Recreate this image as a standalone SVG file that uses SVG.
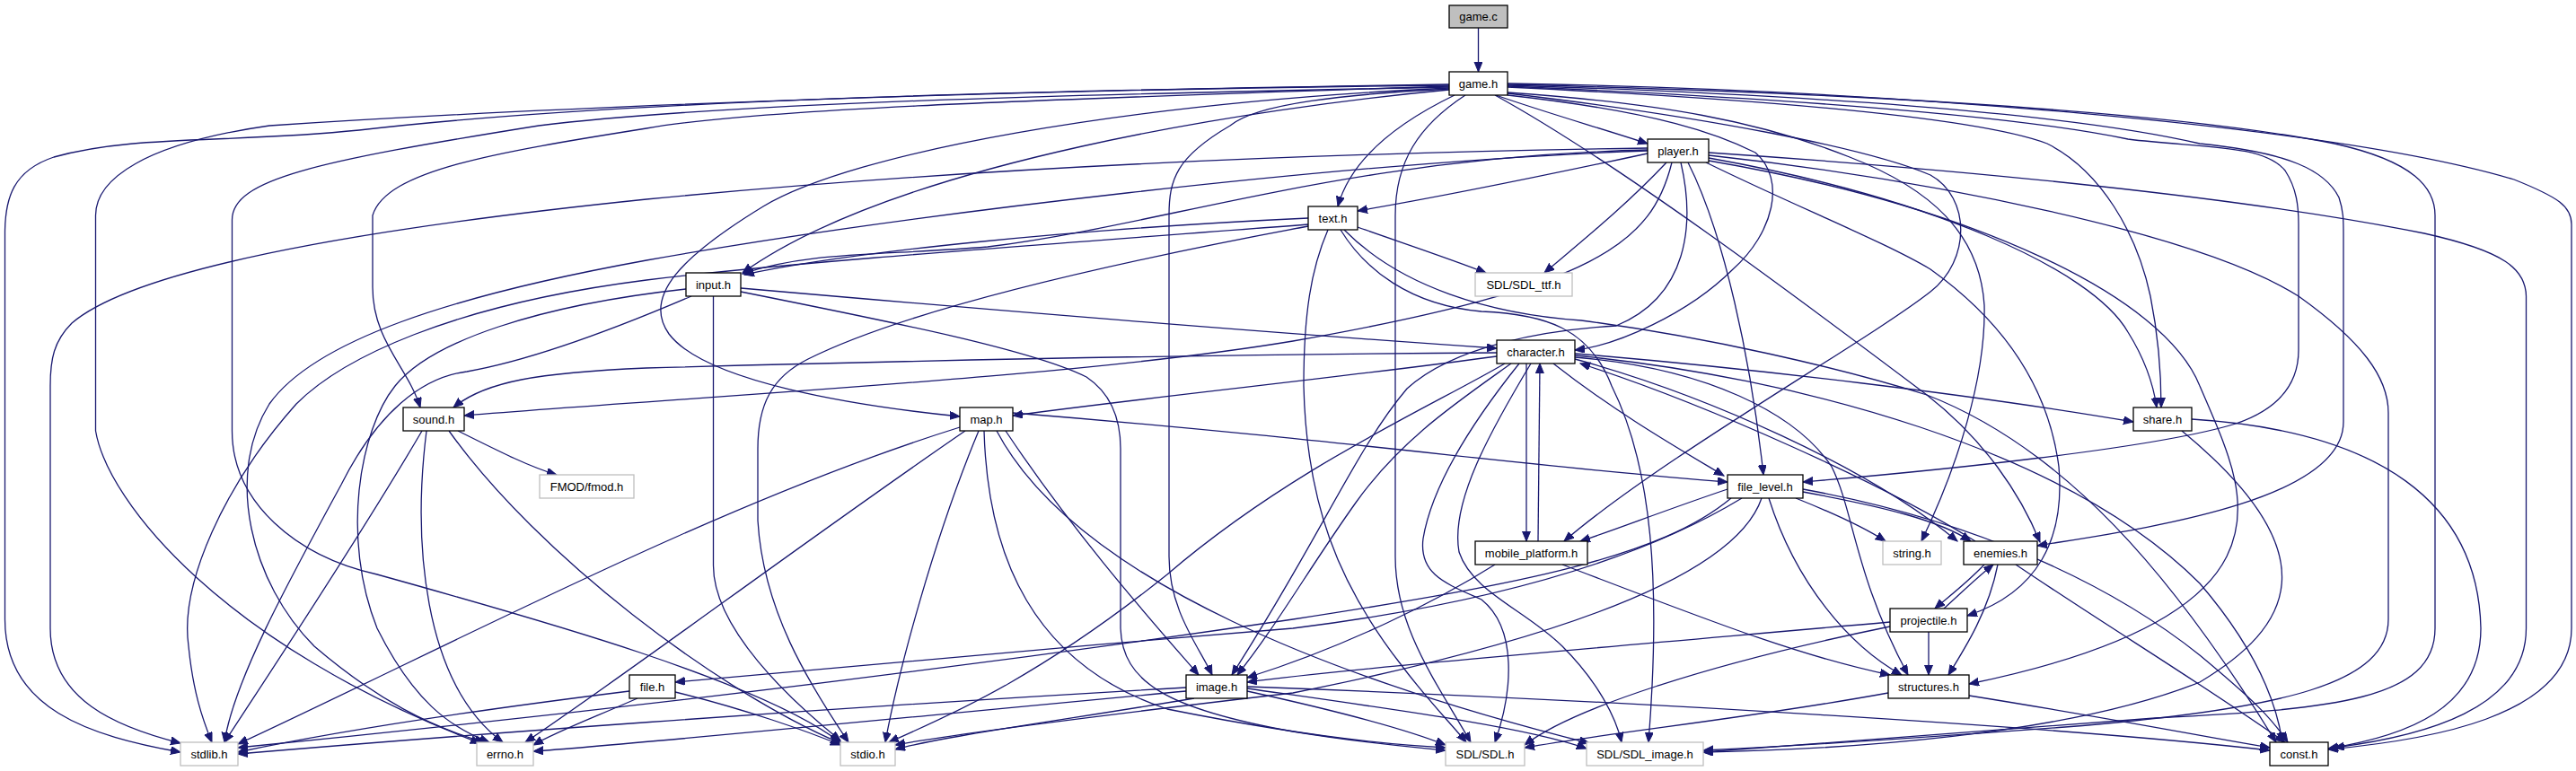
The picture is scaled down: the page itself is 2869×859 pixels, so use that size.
<svg xmlns="http://www.w3.org/2000/svg" width="2869" height="859" viewBox="0 0 2869 859">
<style>
.bg{fill:#fff}
.n rect{fill:#fff;stroke:#000;stroke-width:1.3}
.u rect{fill:#fff;stroke:#bfbfbf;stroke-width:1.3}
.r rect{fill:#bfbfbf;stroke:#000;stroke-width:1.3}
text{font-family:"Liberation Sans",Arial,sans-serif;font-size:13px;text-anchor:middle;fill:#000}
.e path{fill:none;stroke:#191970;stroke-width:1.3;marker-end:url(#a)}
</style>
<defs>
<marker id="a" markerUnits="userSpaceOnUse" markerWidth="12" markerHeight="10" refX="11" refY="4.5" orient="auto"><path d="M0,0 L11,4.5 L0,9 z" fill="#191970" stroke="#191970" stroke-width="1"/></marker>
</defs>
<rect class="bg" width="2869" height="859"/>
<g id="edges" class="e">
<path d="M1646.5,31 L1646.5,80"/>
<path d="M1666,106 C1720,125 1780,142 1835,160"/>
<path d="M1620,106 C1560,135 1505,175 1490,230"/>
<path d="M1614,100 C1400,120 1000,180 827,304"/>
<path d="M1614,98 C1250,115 950,170 850,230 C760,285 715,330 745,372 C785,425 950,452 1069,464"/>
<path d="M1614,96 C1200,110 850,120 720,143 C550,170 430,190 415,240 L415,320 C415,380 455,410 468,454"/>
<path d="M1614,94 C1200,100 700,110 400,145 C250,160 150,150 60,175 C15,190 5.5,220 5.5,260 L5.5,690 C5.5,790 100,820 201,838"/>
<path d="M1614,95 C1100,100 600,120 300,140 C160,160 106.5,200 106.5,240 L106.5,480 C120,560 250,720 535,828"/>
<path d="M1614,97 C1200,105 800,115 600,140 C350,180 258.5,200 258.5,245 L258.5,480 C258.5,560 330,620 420,640 C600,690 850,760 937,828"/>
<path d="M1614,99 C1500,105 1400,115 1370,140 C1310,175 1302,200 1302,240 L1302,620 C1302,680 1335,720 1350,752"/>
<path d="M1632,106 C1580,140 1554,180 1554,240 L1554,620 C1554,700 1600,760 1638,827"/>
<path d="M1679,106 C1850,125 1915,150 1955,170 C1990,200 1975,260 1930,300 C1880,350 1800,385 1754,390"/>
<path d="M1679,104 C1900,130 2080,165 2150,195 C2195,220 2195,290 2150,325 C2080,380 1850,510 1742,603"/>
<path d="M1679,103 C1850,115 1960,135 2060,175 C2150,210 2205,260 2210,340 C2212,420 2180,520 2140,603"/>
<path d="M1665,106 C1800,180 2000,330 2146,440 C2210,490 2250,550 2272,604"/>
<path d="M1679,97 C1950,110 2200,130 2280,160 C2340,190 2380,260 2395,330 C2405,380 2407,420 2407,454"/>
<path d="M1679,96 C2000,110 2250,130 2370,155 C2450,165 2520,160 2545,190 C2558,210 2560,230 2560,250 L2560,390 C2560,425 2540,455 2490,472 C2400,500 2150,525 2008,537"/>
<path d="M1679,95 C2000,105 2300,125 2450,160 C2550,170 2590,190 2605,220 C2610,235 2610,245 2610,260 L2610,470 C2610,560 2380,590 2269,608"/>
<path d="M1679,94 C2000,102 2400,120 2600,160 C2690,180 2712,210 2712,240 L2712,700 C2712,780 2600,790 2400,800 C2200,815 2000,830 1897,838"/>
<path d="M1679,93 C2100,100 2600,140 2800,200 C2850,220 2864,230 2864,250 L2864,700 C2864,800 2700,825 2593,835"/>
<path d="M1835,171 C1700,200 1600,220 1512,235"/>
<path d="M1835,167 C1500,175 1300,250 1100,275 C980,285 900,280 827,305"/>
<path d="M1835,165 C1500,170 1100,185 720,222 C400,255 150,300 80,360 C60,380 56,400 56,430 L56,700 C56,780 130,810 201,828"/>
<path d="M1856,181 C1810,230 1760,270 1720,304"/>
<path d="M1862,181 C1840,270 1780,320 1440,380 C1200,420 800,440 517,463"/>
<path d="M1872,181 C1888,250 1880,330 1800,363 C1720,368 1620,385 1567,433 C1510,500 1470,600 1372,752"/>
<path d="M1880,181 C1920,260 1950,400 1964,529"/>
<path d="M1903,170 C2200,190 2500,220 2700,260 C2790,280 2813,300 2813.5,330 L2813.5,700 C2813.5,790 2700,820 2600,833"/>
<path d="M1903,173 C2150,200 2450,260 2560,330 C2630,380 2660,420 2660,460 L2660,690 C2660,760 2550,790 2300,810 C2100,825 1980,832 1897,836"/>
<path d="M1903,176 C2150,220 2330,300 2370,370 C2395,410 2400,440 2402,454"/>
<path d="M1903,179 C2200,230 2410,330 2450,430 C2480,500 2510,560 2480,620 C2440,700 2300,740 2193,762"/>
<path d="M1900,181 C2000,230 2100,270 2150,300 C2220,350 2280,420 2293,520 C2300,600 2270,660 2191,686"/>
<path d="M1835,168 C1500,180 1000,240 720,290 C500,330 350,380 300,450 C250,530 280,650 350,720 C420,780 480,810 540,827"/>
<path d="M1457,250 C1200,270 900,290 720,312 C500,340 380,400 330,450 C250,540 200,650 210,720 C215,770 225,800 236,827"/>
<path d="M1457,243 C1200,255 950,280 829,306"/>
<path d="M1512,253 C1560,270 1620,290 1655,304"/>
<path d="M1479,256 C1460,300 1452,350 1452,430 C1455,560 1490,650 1560,740 C1590,780 1615,805 1633,827"/>
<path d="M1493,256 C1520,300 1570,340 1650,347 C1720,350 1770,365 1795,430 C1840,520 1850,650 1836,827"/>
<path d="M1497,256 C1560,320 1660,350 1761,357 C1900,375 2050,410 2146,440 C2300,500 2420,640 2535,827"/>
<path d="M1457,252 C1200,300 1000,350 900,400 C860,420 844,450 844,500 L844,580 C850,680 900,760 945,827"/>
<path d="M825,321 C1100,345 1400,370 1667,388"/>
<path d="M794.5,330 L794.5,630 C794.5,700 880,780 936,825"/>
<path d="M764,322 C600,340 480,380 440,430 C400,480 380,600 420,700 C460,780 500,810 545,827"/>
<path d="M825,325 C1000,360 1150,390 1210,420 C1240,440 1248,470 1248,500 L1248,700 C1250,760 1300,790 1440,815 C1520,828 1570,832 1610,836"/>
<path d="M770,330 C700,360 600,400 520,414 C470,420 420,460 380,540 C320,650 260,760 250,827"/>
<path d="M1667,393 C1300,395 900,405 720,410 C600,415 540,425 505,454"/>
<path d="M1667,397 C1500,420 1300,440 1128,463"/>
<path d="M1683,405 C1620,450 1560,490 1510,560 C1460,630 1420,700 1378,752"/>
<path d="M1700,405 L1700,603"/>
<path d="M1713,603 L1715,405"/>
<path d="M1730,405 C1800,460 1870,500 1920,530"/>
<path d="M1754,400 C1900,440 2080,520 2180,603"/>
<path d="M2200,603 C2100,540 1900,450 1760,405"/>
<path d="M1754,398 C1900,410 2000,460 2040,520 C2065,570 2065,640 2125,752"/>
<path d="M1754,394 C1950,410 2200,440 2376,470"/>
<path d="M1692,405 C1640,470 1595,540 1585,600 C1580,640 1610,650 1650,668 C1690,700 1685,770 1665,827"/>
<path d="M1705,405 C1660,480 1615,560 1625,615 C1640,660 1700,680 1740,720 C1780,760 1800,800 1806,827"/>
<path d="M1676,405 C1600,450 1440,520 1300,640 C1150,760 1050,800 990,827"/>
<path d="M1754,396 C2000,420 2300,500 2450,650 C2510,720 2535,780 2542,827"/>
<path d="M1924,545 C1850,570 1800,590 1760,603"/>
<path d="M2000,555 C2050,575 2080,590 2100,603"/>
<path d="M2008,548 C2100,565 2160,580 2195,603"/>
<path d="M1970,555 C2000,650 2060,720 2118,752"/>
<path d="M2008,545 C2200,580 2350,650 2450,730 C2510,780 2530,800 2548,827"/>
<path d="M1928,555 C1850,620 1700,650 1440,690 C1100,740 700,790 265,833"/>
<path d="M1940,555 C1800,640 1600,680 1440,700 C1200,720 900,745 752,760"/>
<path d="M1962,555 C1930,650 1700,720 1440,772 C1200,800 1050,820 997,830"/>
<path d="M1665,629 C1600,670 1500,720 1389,755"/>
<path d="M1740,629 C1900,690 2000,730 2105,752"/>
<path d="M2210,629 C2190,650 2170,665 2155,678"/>
<path d="M2165,678 C2185,660 2200,645 2220,629"/>
<path d="M2225,629 C2215,680 2190,720 2170,752"/>
<path d="M2245,629 C2350,700 2450,760 2545,827"/>
<path d="M2148,704 L2148,752"/>
<path d="M2105,693 C1800,720 1500,745 1389,760"/>
<path d="M2105,698 C1900,740 1750,790 1698,830"/>
<path d="M701,770 C500,795 350,820 265,838"/>
<path d="M710,778 C660,800 620,815 594,830"/>
<path d="M752,771 C830,790 900,815 936,830"/>
<path d="M1321,766 C900,790 500,820 265,840"/>
<path d="M1321,770 C1000,800 700,830 594,837"/>
<path d="M1330,778 C1200,800 1050,820 997,835"/>
<path d="M1389,770 C1480,790 1560,810 1610,830"/>
<path d="M1389,767 C1550,790 1700,810 1767,834"/>
<path d="M1389,765 C1800,780 2300,810 2528,836"/>
<path d="M2103,772 C1950,800 1800,815 1698,833"/>
<path d="M2193,775 C2350,800 2450,820 2528,833"/>
<path d="M2441,467 C2650,480 2760,560 2763,700 C2763,790 2680,820 2593,834"/>
<path d="M2430,480 C2600,620 2550,700 2450,760 C2300,820 2050,835 1897,838"/>
<path d="M510,480 C560,505 590,520 620,529"/>
<path d="M470,480 C400,600 300,750 250,827"/>
<path d="M475,480 C460,600 470,760 560,827"/>
<path d="M500,480 C600,620 800,770 936,828"/>
<path d="M1128,460 C1500,490 1700,520 1924,537"/>
<path d="M1120,480 C1200,600 1290,700 1335,752"/>
<path d="M1069,476 C800,560 500,720 265,829"/>
<path d="M1075,480 C900,600 700,750 585,827"/>
<path d="M1090,480 C1040,600 1000,750 986,827"/>
<path d="M1096,480 C1100,620 1150,740 1300,790 C1450,820 1550,830 1610,833"/>
<path d="M1110,480 C1200,650 1500,760 1770,828"/>
</g>
<g id="game_c" class="r"><rect x="1614" y="6" width="65" height="25"/><text x="1646.5" y="23">game.c</text></g>
<g id="game_h" class="n"><rect x="1614" y="80" width="65" height="26"/><text x="1646.5" y="97.5">game.h</text></g>
<g id="player_h" class="n"><rect x="1835" y="155" width="68" height="26"/><text x="1869" y="172.5">player.h</text></g>
<g id="text_h" class="n"><rect x="1457" y="230" width="55" height="26"/><text x="1484.5" y="247.5">text.h</text></g>
<g id="sdl_ttf_h" class="u"><rect x="1643" y="304" width="108" height="26"/><text x="1697" y="321.5">SDL/SDL_ttf.h</text></g>
<g id="input_h" class="n"><rect x="764" y="304" width="61" height="26"/><text x="794.5" y="321.5">input.h</text></g>
<g id="character_h" class="n"><rect x="1667" y="379" width="87" height="26"/><text x="1710.5" y="396.5">character.h</text></g>
<g id="sound_h" class="n"><rect x="449" y="454" width="68" height="26"/><text x="483" y="471.5">sound.h</text></g>
<g id="map_h" class="n"><rect x="1069" y="454" width="59" height="26"/><text x="1098.5" y="471.5">map.h</text></g>
<g id="share_h" class="n"><rect x="2376" y="454" width="65" height="26"/><text x="2408.5" y="471.5">share.h</text></g>
<g id="fmod_h" class="u"><rect x="601" y="529" width="105" height="26"/><text x="653.5" y="546.5">FMOD/fmod.h</text></g>
<g id="file_level_h" class="n"><rect x="1924" y="529" width="84" height="26"/><text x="1966" y="546.5">file_level.h</text></g>
<g id="mobile_platform_h" class="n"><rect x="1643" y="603" width="125" height="26"/><text x="1705.5" y="620.5">mobile_platform.h</text></g>
<g id="string_h" class="u"><rect x="2097" y="603" width="65" height="26"/><text x="2129.5" y="620.5">string.h</text></g>
<g id="enemies_h" class="n"><rect x="2187" y="603" width="82" height="26"/><text x="2228" y="620.5">enemies.h</text></g>
<g id="projectile_h" class="n"><rect x="2105" y="678" width="86" height="26"/><text x="2148" y="695.5">projectile.h</text></g>
<g id="file_h" class="n"><rect x="701" y="752" width="51" height="26"/><text x="726.5" y="769.5">file.h</text></g>
<g id="image_h" class="n"><rect x="1321" y="752" width="68" height="26"/><text x="1355" y="769.5">image.h</text></g>
<g id="structures_h" class="n"><rect x="2103" y="752" width="90" height="26"/><text x="2148" y="769.5">structures.h</text></g>
<g id="stdlib_h" class="u"><rect x="201" y="827" width="64" height="26"/><text x="233" y="844.5">stdlib.h</text></g>
<g id="errno_h" class="u"><rect x="531" y="827" width="63" height="26"/><text x="562.5" y="844.5">errno.h</text></g>
<g id="stdio_h" class="u"><rect x="936" y="827" width="61" height="26"/><text x="966.5" y="844.5">stdio.h</text></g>
<g id="sdl_h" class="u"><rect x="1610" y="827" width="88" height="26"/><text x="1654" y="844.5">SDL/SDL.h</text></g>
<g id="sdl_image_h" class="u"><rect x="1767" y="827" width="130" height="26"/><text x="1832" y="844.5">SDL/SDL_image.h</text></g>
<g id="const_h" class="n"><rect x="2528" y="827" width="65" height="26"/><text x="2560.5" y="844.5">const.h</text></g>
</svg>
